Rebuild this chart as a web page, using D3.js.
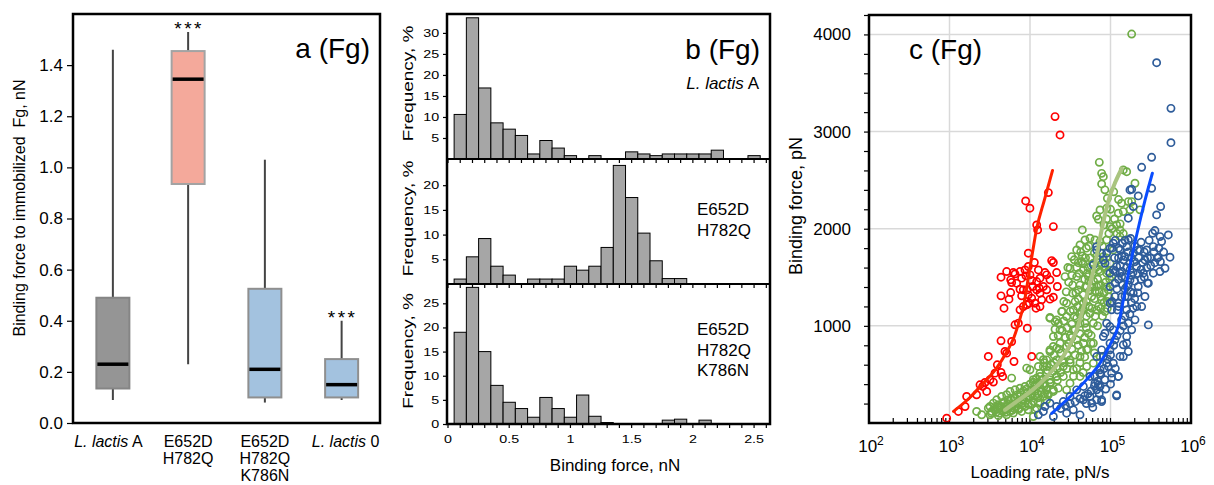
<!doctype html>
<html>
  <head>
    <meta charset="utf-8">
    <title>Binding force</title>
    <script src="https://d3js.org/d3.v7.min.js"></script>
    <style>
      body { margin: 0; background: #fff; }
    </style>
  </head>
  <body>
    <script>
      // ---------- panel a: box plot ----------
      const boxCategories = ['L. lactis A', 'E652D\nH782Q', 'E652D\nH782Q\nK786N', 'L. lactis 0'];
      const boxMin = [0.09, 0.23, 0.08, 0.09];
      const boxQ1 = [0.135, 0.935, 0.10, 0.10];
      const boxMedian = [0.23, 1.345, 0.21, 0.15];
      const boxQ3 = [0.49, 1.455, 0.525, 0.25];
      const boxMax = [1.46, 1.53, 1.03, 0.40];
      const boxStars = ['', '***', '', '***'];
      const yTicksA = [0, 0.2, 0.4, 0.6, 0.8, 1.0, 1.2, 1.4];

      // ---------- panel b: histograms (bin width 0.1 nN) ----------
      const binCenters = [0.1, 0.2, 0.3, 0.4, 0.5, 0.6, 0.7, 0.8, 0.9, 1.0, 1.1, 1.2, 1.3,
                          1.4, 1.5, 1.6, 1.7, 1.8, 1.9, 2.0, 2.1, 2.2, 2.3, 2.4, 2.5];
      const freqLactisA = [10.6, 33.6, 16.9, 8.6, 7.1, 5.6, 1.2, 4.4, 2.6, 0.8, 0, 0.8, 0,
                           0, 1.7, 1.2, 0.8, 1.2, 1.2, 1.2, 1.2, 2.1, 0, 0, 0.8];
      const freqDH = [1.0, 5.5, 9.2, 3.6, 1.8, 0, 1.0, 1.0, 1.0, 3.6, 2.8, 3.6, 7.4,
                      24.0, 17.5, 10.3, 4.7, 1.1, 1.1, 0, 0, 0, 0, 0, 0];
      const freqDHK = [19.0, 28.3, 15.0, 8.0, 4.5, 3.2, 1.4, 5.5, 3.2, 1.4, 6.0, 1.6, 0.3,
                       0, 0, 0, 0, 0.8, 1.0, 0, 0.8, 0, 0, 0, 0];
      const histLabels = [['L. lactis A'], ['E652D', 'H782Q'], ['E652D', 'H782Q', 'K786N']];
      const histTicksA = [5, 10, 15, 20, 25, 30];
      const histTicksDH = [5, 10, 15, 20];
      const histTicksDHK = [0, 5, 10, 15, 20, 25];
      const forceTicksB = [0, 0.5, 1, 1.5, 2, 2.5];

      // ---------- panel c: dynamic force spectroscopy ----------
      // points are [log10(loading rate, pN/s), binding force, pN]
      const rateLabels = [2, 3, 4, 5, 6];
      const forceGridC = [1000, 2000, 3000, 4000];
      const redPoints = [
        [4.311,3154],[4.373,2965],[3.946,2286],[3.999,2211],[4.228,2372],[4.083,2039],[4.095,1988],[4.290,2022],[3.979,1748],
        [3.640,1501],[3.710,1559],[3.760,1474],[3.793,1549],[3.772,1446],[3.876,1559],[3.896,1491],[3.938,1576],[3.979,1611],
        [4.000,1525],[4.054,1652],[4.104,1576],[4.124,1491],[4.186,1549],[4.207,1525],[4.269,1672],[4.290,1652],[4.248,1474],
        [4.331,1549],[4.340,1405],[3.876,1377],[3.760,1343],[3.640,1309],[3.739,1275],[3.677,1182],[3.896,1309],[3.967,1371],
        [4.021,1285],[4.083,1371],[4.124,1336],[4.145,1268],[4.062,1233],[4.075,1182],[3.959,1216],[3.917,1199],[3.876,1165],
        [3.979,1319],[4.248,1275],[4.290,1295],[4.116,1388],[4.033,1405],[3.834,1439],[4.021,1467],[4.166,1405],[4.207,1371],
        [4.083,1456],[3.917,1371],[3.992,1233],[4.124,1199],[3.814,1535],[3.950,1515],
        [3.855,1028],[3.814,1011],[3.967,976],[3.640,846],[3.710,719],[3.689,736],[3.482,685],[3.594,599],[3.640,520],
        [3.660,479],[3.801,633],[4.021,685],[3.441,417],[3.545,421],[3.412,376],[3.462,325],[3.337,291],[3.213,273],
        [3.193,170],[3.110,119],[2.965,50],[3.772,839],[3.565,513],[3.379,393],[3.503,445]
      ];
      const greenPoints = [
        [4.248,1086],[4.331,1062],[4.311,966],[4.352,1028],[4.290,788],[4.331,771],[4.248,736],[4.124,685],[4.166,651],
        [4.207,582],[4.104,582],[3.959,565],[4.000,548],[4.290,531],[4.124,479],[4.041,445],[4.331,479],[4.248,411],
        [3.772,462],[3.938,376],[3.876,359],[3.814,342],[3.752,325],[3.710,291],[3.648,273],[3.586,239],[3.545,205],
        [3.503,170],[3.482,153],[3.565,136],[3.627,153],[3.710,170],[3.772,188],[3.834,205],[3.917,239],[4.000,273],
        [4.062,325],[4.124,359],[4.166,393],[4.207,342],[4.290,325],[4.352,359],[3.337,119],[3.400,85],[3.503,85],
        [3.607,75],[3.710,85],[3.793,102],[3.896,119],[3.979,136],[4.083,153],[4.124,205],[4.207,239],[3.524,119],
        [3.669,205],[3.731,239],[3.607,188],[3.876,273],[3.959,308],[3.814,256],[3.689,136],[3.855,153],[4.041,222],
        [4.861,2683],[4.890,2570],[4.911,2536],[4.890,2461],[4.961,2313],[4.952,2210],[4.870,2193],[4.828,2131],[4.849,2097],
        [4.919,2039],[4.994,2022],[5.201,2587],[5.159,2605],[5.222,2279],[5.159,2176],[5.118,1987],[4.650,1987],[4.621,1833],
        [4.580,1782],[4.683,1884],[4.745,1902],[4.807,1884],[4.642,1662],[4.518,1713],[4.497,1593],[4.435,1507],[4.530,1336],
        [4.455,1233],[4.393,1147],[4.248,1079],[4.311,1044],[4.373,959],[4.455,1096],[4.538,959],[4.621,1027],[4.725,924],
        [4.787,821],[4.704,753],[4.621,684],[4.497,650],[4.414,581],[4.331,650],[4.207,650],[4.166,581],[4.124,513],
        [4.083,410],[4.021,341],[4.166,273],[4.228,290],[4.062,136],[4.041,67],
        [4.663,1576],[4.725,1507],[4.787,1644],[4.849,1576],[4.911,1713],[4.952,1542],[4.704,1404],[4.766,1301],[4.828,1404],
        [4.890,1267],[4.973,1370],[4.663,1233],[4.600,1370],[4.580,1507],[4.828,1164],[4.745,1130],[4.932,1147],[4.994,1644],
        [5.035,1782],[5.014,1507],[4.683,1027],[4.787,1027],[4.538,1164],[4.580,856],[4.663,821],[4.455,787],[4.373,821],
        [4.290,890],[4.248,753],[4.414,479],[4.538,547],[4.497,410],[4.331,479],[4.248,444],[4.290,341],[4.455,341],
        [4.621,479],[4.704,581],[4.787,616],[4.870,684],
        [5.263,4004],[5.138,2262],[5.097,2159],[5.263,2279],[5.242,2194],[5.304,2468],[5.366,2194],[5.076,2039],[5.159,1950],
        [5.118,1919],[4.869,1868],[4.952,1885],
        [4.60,1650],[4.65,1720],[4.70,1800],[4.75,1700],[4.80,1750],[4.85,1680],[4.90,1820],[4.72,1600],[4.78,1550],
        [4.84,1480],[4.88,1420],[4.68,1480],[4.62,1420],[4.74,1360],[4.80,1280],[4.86,1350],[4.70,1250],[4.64,1150],
        [4.58,1080],[4.52,1020],[4.50,900],[4.46,980],[4.42,1050],[4.56,1250],[4.94,1450],[4.96,1250],[4.90,1100],
        [4.84,1000],[4.76,900],[4.68,880],
        [4.10,300],[4.18,380],[4.26,420],[4.34,560],[4.40,640],[4.46,700],[4.36,760],[4.30,620],[4.20,520],
        [4.14,440],[4.06,380],[4.22,300],[3.95,260],[3.90,200],[3.80,150],[3.75,120],[3.98,190],
        [4.47,1600],[4.52,1520],[4.55,1680],[4.58,1600],[4.61,1540],[4.63,1760],[4.66,1640],[4.69,1700],[4.71,1540],
        [4.73,1820],[4.76,1620],[4.79,1460],[4.82,1600],[4.83,1720],[4.87,1560],[4.89,1640],[4.92,1600],[4.95,1700],
        [4.97,1560],[4.99,1480],[4.53,1420],[4.57,1340],[4.60,1280],[4.66,1320],[4.69,1400],[4.73,1460],[4.77,1400],
        [4.81,1360],[4.85,1420],[4.88,1300],[4.92,1340],[4.95,1400],[4.98,1300],[4.50,1150],[4.55,1100],[4.59,1200],
        [4.62,1120],[4.66,1180],[4.70,1100],[4.73,1200],[4.77,1180],[4.81,1100],[4.85,1200],[4.88,1180],[4.92,1240],
        [4.96,1180],[4.45,1350],[4.48,1450],[4.42,1250],[4.40,1150],
        [4.35,900],[4.40,950],[4.44,880],[4.48,820],[4.52,760],[4.56,700],[4.60,800],[4.64,740],[4.68,680],
        [4.72,760],[4.76,820],[4.80,720],[4.52,880],[4.56,960],[4.62,920],[4.70,980],[4.38,720],[4.42,620],
        [4.46,560],[4.50,620],[4.54,480],[4.58,560],[4.62,620],[4.66,520],[4.30,700],[4.26,600],[4.22,540],
        [4.18,620],[4.34,440],[4.38,520],
        [3.58,110],[3.62,100],[3.66,120],[3.70,140],[3.74,160],[3.78,180],[3.82,170],[3.86,200],[3.90,240],
        [3.94,220],[3.98,260],[4.02,300],[4.06,280],[4.10,260],[4.14,320],[4.18,300],[3.64,170],[3.68,220],
        [3.72,200],[3.76,240],[3.80,260],[3.84,290],[3.88,310],[3.92,330],[3.96,350],[4.00,400],[4.04,420],
        [4.08,460],[4.12,400],[4.16,450],[3.60,140],[3.56,160],[3.52,100],[3.70,110],[3.78,130],[3.86,140],
        [3.94,170],[4.02,190],[4.10,210],
        [4.95,2100],[5.00,2200],[5.05,2100],[5.02,2000],[4.98,1950],[5.08,1950],[5.12,2050],[4.93,2400],[5.04,2380],
        [5.10,2300]
      ];
      const bluePoints = [
        [5.573,3709],[5.751,3239],[5.751,2886],[5.511,2735],[5.387,2632],[5.263,2406],[5.345,2338],[5.511,2416],[5.283,2228],
        [5.221,2108],[5.573,2142],[5.623,2228],[5.552,1981],[5.523,1953],[5.615,1919],[5.718,1936],[5.635,1868],[5.532,1816],
        [5.739,1707],[5.594,1707],[5.614,1559],[5.677,1593],[5.532,1542],[5.470,1439],[5.428,1302],[5.387,1199],[5.470,1010],
        [5.304,1062],[5.263,959],[5.201,890],[5.159,805],[5.221,736],[5.118,685],[5.035,616],[5.097,479],[5.014,462],
        [4.931,445],[4.869,376],[4.849,393],[5.076,280],[4.890,239],[4.828,239],[4.766,205],
        [5.035,1851],[5.118,1782],[5.201,1816],[5.283,1748],[5.366,1782],[5.428,1679],[5.325,1611],[5.242,1645],[5.159,1679],
        [5.076,1611],[4.993,1542],[5.056,1439],[5.138,1508],[5.242,1473],[5.345,1405],[5.408,1542],[5.449,1782],[5.283,1336],
        [5.180,1302],[5.097,1233],[5.014,1165],[5.201,1165],[5.325,1199],[5.138,1062],[4.993,993],[4.931,925],[5.056,856],
        [4.993,753],[4.911,685],[4.973,582],[4.869,513],[4.807,479],[4.828,1782],[4.911,1679],[4.786,1628],[4.952,1748],
        [4.828,1816],[4.890,1747],[4.994,1799],[4.932,1644],[5.035,1576],[5.118,1542],[4.994,1404],[5.056,1301],[4.994,1233],
        [5.085,1164],[4.952,1027],[5.035,959],[4.911,890],[4.994,821],[4.890,753],[4.828,684],[4.952,616],[4.870,547],
        [5.014,513],[5.097,479],[4.745,479],[4.807,410],[4.663,376],[4.580,341],[4.497,273],[4.414,221],[4.331,170],
        [4.248,204],[4.186,170],[4.166,119],[4.104,84],[4.538,136],[4.663,239],[4.745,273],[4.828,341],[4.890,221],
        [5.077,290],[4.455,101],[4.621,84],[4.290,67],[5.242,2399],[5.222,1884],[5.180,1713],[5.242,1576],[5.201,1404],
        [5.180,1233],[5.222,1027],[5.201,821],[5.159,684],
        [5.10,1700],[5.15,1850],[5.25,1900],[5.30,1820],[5.35,1700],[5.40,1650],[5.20,1600],[5.05,1700],[5.12,1620],
        [5.28,1550],[5.38,1480],[5.45,1600],[5.50,1700],[5.48,1880],[5.55,1650],[5.60,1800],[5.02,1250],[5.08,1380],
        [5.15,1420],[5.25,1350],
        [5.02,1800],[5.06,1880],[5.10,1800],[5.14,1720],[5.18,1880],[5.22,1760],[5.26,1700],[5.30,1660],[5.34,1780],
        [5.38,1860],[5.42,1760],[5.46,1700],[5.50,1620],[5.54,1760],[5.58,1700],[5.62,1660],[5.66,1760],[5.06,1560],
        [5.10,1480],[5.14,1560],[5.18,1500],[5.22,1420],[5.26,1520],[5.30,1460],[5.34,1540],[5.38,1580],[5.42,1500],
        [5.46,1440],[5.14,1300],[5.18,1380],[5.22,1300],[5.26,1240],[5.30,1280],[5.34,1340],[5.10,1200],[5.18,1100],
        [5.24,1120],[5.28,1180],[5.12,950],[5.16,1000],[5.08,900],[5.04,800],[5.00,700],[4.96,660],[4.92,560],
        [4.88,500],[4.84,430],[4.80,380],[4.76,330],[4.72,300],[4.68,280],[4.62,250],[4.56,220],[4.50,200],
        [4.44,180],[4.38,150],[4.70,200],[4.78,160],[4.86,300],[4.94,350],[5.00,400],[5.06,560]
      ];
      const redFit = [[3.05,120],[3.25,260],[3.42,410],[3.58,560],[3.71,730],[3.80,880],[3.86,1030],
                      [3.93,1250],[3.98,1500],[4.03,1750],[4.08,1990],[4.18,2300],[4.28,2600]];
      const greenFit = [[3.69,136],[3.85,230],[4.00,320],[4.20,470],[4.41,684],[4.58,959],[4.70,1300],
                        [4.81,1644],[4.89,1987],[4.99,2330],[5.06,2480],[5.14,2620]];
      const blueFit = [[4.27,100],[4.50,273],[4.70,444],[4.87,616],[4.99,800],[5.10,1010],[5.16,1268],
                       [5.24,1611],[5.33,1953],[5.43,2296],[5.52,2571]];

      const FONT = '"Liberation Sans", Arial, sans-serif';

      const svg = d3.select('body').append('svg')
          .attr('width', 1214)
          .attr('height', 485)
          .attr('font-family', FONT);

      // writes one line, with "L. lactis" in italics
      function addLine(text, line) {
        if (line.startsWith('L. lactis')) {
          text.append('tspan').attr('font-style', 'italic').text('L. lactis');
          text.append('tspan').text(line.slice(9));
        } else {
          text.append('tspan').text(line);
        }
      }

      function styleAxis(g, size) {
        g.attr('font-family', FONT).attr('font-size', size);
        g.select('.domain').remove();
        g.selectAll('line').attr('stroke', '#000').attr('stroke-width', 1.2);
        g.selectAll('text').attr('fill', '#000');
      }

      // ===== panel a =====
      const xA = d3.scaleBand().domain(boxCategories).range([73, 380]);
      const yA = d3.scaleLinear().domain([0, 1.6]).range([423, 14]);
      const gA = svg.append('g');
      const boxFill = ['#959595', '#f4a99b', '#a3c2df', '#a3c2df'];
      const boxStroke = ['#858585', '#a3a3a3', '#8f8f8f', '#8f8f8f'];
      const boxW = 33;

      gA.append('g')
          .attr('transform', 'translate(73,0)')
          .call(d3.axisLeft(yA).tickValues(yTicksA).tickFormat(d3.format('.1f')).tickSize(6).tickPadding(4))
          .call(g => styleAxis(g, 17));

      boxCategories.forEach((c, i) => {
        const cx = xA(c) + xA.bandwidth() / 2 + (i === 0 ? 1.5 : 0);
        gA.append('line')
            .attr('x1', cx).attr('x2', cx)
            .attr('y1', yA(boxMin[i])).attr('y2', yA(boxMax[i]))
            .attr('stroke', '#444').attr('stroke-width', 2);
        gA.append('rect')
            .attr('x', cx - boxW / 2).attr('width', boxW)
            .attr('y', yA(boxQ3[i])).attr('height', yA(boxQ1[i]) - yA(boxQ3[i]))
            .attr('fill', boxFill[i]).attr('stroke', boxStroke[i]).attr('stroke-width', 2);
        gA.append('line')
            .attr('x1', cx - boxW / 2 + 1).attr('x2', cx + boxW / 2 - 1)
            .attr('y1', yA(boxMedian[i])).attr('y2', yA(boxMedian[i]))
            .attr('stroke', '#000').attr('stroke-width', 3.5);
        if (boxStars[i]) {
          gA.append('text')
              .attr('x', cx + 1).attr('y', yA(boxMax[i]) + 3)
              .attr('text-anchor', 'middle').attr('font-size', 19).attr('letter-spacing', 2.5)
              .text(boxStars[i]);
        }
        c.split('\n').forEach((line, li) => {
          const t = gA.append('text')
              .attr('x', xA(c) + xA.bandwidth() / 2 - (i === 0 ? 3 : 0) + (i === 3 ? 4 : 0))
              .attr('y', 447 + li * 17)
              .attr('text-anchor', 'middle').attr('font-size', 16);
          addLine(t, line);
        });
      });

      gA.append('rect')
          .attr('x', 73).attr('y', 14).attr('width', 307).attr('height', 409)
          .attr('fill', 'none').attr('stroke', '#000').attr('stroke-width', 2.5);

      gA.append('text')
          .attr('transform', 'translate(25,208) rotate(-90)')
          .attr('text-anchor', 'middle').attr('font-size', 16)
          .style('white-space', 'pre')
          .text('Binding force to immobilized  Fg, nN');

      gA.append('text')
          .attr('x', 370).attr('y', 58)
          .attr('text-anchor', 'end').attr('font-size', 28)
          .text('a (Fg)');

      // ===== panel b =====
      const xB = d3.scaleLinear().domain([0, 2.63]).range([448, 770]);
      const histPanels = [
        { freq: freqLactisA, ticks: histTicksA, label: histLabels[0], top: 14, bottom: 159, max: 34.5 },
        { freq: freqDH, ticks: histTicksDH, label: histLabels[1], top: 159, bottom: 284, max: 25.3 },
        { freq: freqDHK, ticks: histTicksDHK, label: histLabels[2], top: 284, bottom: 424, max: 29.0 }
      ];
      const gB = svg.append('g');
      const binW = xB(0.1) - xB(0);

      histPanels.forEach((p, pi) => {
        const y = d3.scaleLinear().domain([0, p.max]).range([p.bottom, p.top]);
        const g = gB.append('g');

        g.selectAll('rect')
          .data(binCenters.map((c, i) => ({ c, v: p.freq[i] })).filter(d => d.v > 0))
          .join('rect')
            .attr('x', d => xB(d.c - 0.05))
            .attr('width', binW)
            .attr('y', d => y(d.v))
            .attr('height', d => y(0) - y(d.v))
            .attr('fill', '#a6a6a6')
            .attr('stroke', '#000')
            .attr('stroke-width', 1);

        const ax = g.append('g')
            .attr('transform', 'translate(447,0)')
            .call(d3.axisLeft(y).tickValues(p.ticks).tickSize(4).tickPadding(2))
            .call(a => styleAxis(a, 11));
        ax.selectAll('text').attr('transform', 'scale(1.3,1)');

        g.selectAll('line.xt')
          .data(xB.ticks(26))
          .join('line')
            .attr('x1', d => xB(d)).attr('x2', d => xB(d))
            .attr('y1', p.bottom).attr('y2', p.bottom + 4)
            .attr('stroke', '#000').attr('stroke-width', 1.2);

        g.append('text')
            .attr('transform', `translate(413,${(p.top + p.bottom) / 2 - 3}) rotate(-90) scale(1,0.8)`)
            .attr('text-anchor', 'middle').attr('font-size', 19)
            .text('Frequency, %');

        p.label.forEach((line, li) => {
          const t = g.append('text').attr('font-size', 17);
          if (pi === 0) {
            t.attr('x', 759).attr('y', 89).attr('text-anchor', 'end');
          } else {
            t.attr('x', 697).attr('y', (pi === 1 ? 215 : 335) + li * 20.7);
          }
          addLine(t, line);
        });
      });

      gB.selectAll('text.xl')
        .data(forceTicksB)
        .join('text')
          .attr('transform', d => `translate(${xB(d)},443) scale(1.3,1)`)
          .attr('text-anchor', 'middle').attr('font-size', 11)
          .text(d => d);

      gB.append('rect')
          .attr('x', 447).attr('y', 14).attr('width', 323).attr('height', 410)
          .attr('fill', 'none').attr('stroke', '#000').attr('stroke-width', 2.5);
      [159, 284].forEach(v => {
        gB.append('line').attr('x1', 447).attr('x2', 770).attr('y1', v).attr('y2', v)
            .attr('stroke', '#000').attr('stroke-width', 2);
      });

      gB.append('text')
          .attr('x', 615).attr('y', 471)
          .attr('text-anchor', 'middle').attr('font-size', 17)
          .text('Binding force, nN');

      gB.append('text')
          .attr('x', 760).attr('y', 59)
          .attr('text-anchor', 'end').attr('font-size', 28)
          .text('b (Fg)');

      // ===== panel c =====
      const xC = d3.scaleLog().domain([1e2, 1e6]).range([869, 1191]);
      const yC = d3.scaleLinear().domain([0, 4200]).range([423, 15]);
      const gC = svg.append('g');

      gC.selectAll('line.gx')
        .data(rateLabels.slice(1, -1))
        .join('line')
          .attr('x1', d => xC(10 ** d)).attr('x2', d => xC(10 ** d))
          .attr('y1', 15).attr('y2', 423)
          .attr('stroke', '#d9d9d9').attr('stroke-width', 1.5);
      gC.selectAll('line.gy')
        .data(forceGridC)
        .join('line')
          .attr('x1', 869).attr('x2', 1191)
          .attr('y1', d => yC(d)).attr('y2', d => yC(d))
          .attr('stroke', '#d9d9d9').attr('stroke-width', 1.5);

      gC.append('g')
          .attr('transform', 'translate(869,0)')
          .call(d3.axisLeft(yC).tickValues(yC.ticks(21).filter(v => v > 0))
            .tickSize(5).tickPadding(13)
            .tickFormat(v => v % 1000 === 0 ? v : ''))
          .call(g => styleAxis(g, 17));

      gC.selectAll('line.xt')
        .data(xC.ticks())
        .join('line')
          .attr('x1', d => xC(d)).attr('x2', d => xC(d))
          .attr('y1', 423).attr('y2', 418)
          .attr('stroke', '#000').attr('stroke-width', 1.2);

      const xl = gC.selectAll('text.xl')
        .data(rateLabels)
        .join('text')
          .attr('x', d => xC(10 ** d) + 2).attr('y', 452)
          .attr('text-anchor', 'middle').attr('font-size', 17);
      xl.append('tspan').text('10');
      xl.append('tspan').attr('font-size', 12).attr('dy', -7).text(d => d);

      const series = [
        { pts: greenPoints, color: '#70ad47' },
        { pts: bluePoints, color: '#2e5c9a' },
        { pts: redPoints, color: '#ff0000' }
      ];
      series.forEach(s => {
        gC.append('g').selectAll('circle')
          .data(s.pts)
          .join('circle')
            .attr('cx', d => xC(10 ** d[0]))
            .attr('cy', d => yC(d[1]))
            .attr('r', 3.6)
            .attr('fill', 'none')
            .attr('stroke', s.color)
            .attr('stroke-width', 1.7);
      });

      const fitLine = d3.line()
          .x(d => xC(10 ** d[0]))
          .y(d => yC(d[1]))
          .curve(d3.curveMonotoneX);
      [
        { pts: greenFit, color: '#a9c47f', w: 4 },
        { pts: blueFit, color: '#0a4dff', w: 3 },
        { pts: redFit, color: '#ff2200', w: 3 }
      ].forEach(f => {
        gC.append('path')
            .attr('d', fitLine(f.pts))
            .attr('fill', 'none')
            .attr('stroke', f.color)
            .attr('stroke-width', f.w)
            .attr('stroke-linecap', 'round');
      });

      gC.append('rect')
          .attr('x', 869).attr('y', 15).attr('width', 322).attr('height', 408)
          .attr('fill', 'none').attr('stroke', '#000').attr('stroke-width', 2.5);

      gC.append('text')
          .attr('transform', 'translate(802,206) rotate(-90)')
          .attr('text-anchor', 'middle').attr('font-size', 18)
          .text('Binding force, pN');

      gC.append('text')
          .attr('x', 1040).attr('y', 478)
          .attr('text-anchor', 'middle').attr('font-size', 17)
          .text('Loading rate, pN/s');

      gC.append('text')
          .attr('x', 909).attr('y', 59)
          .attr('font-size', 28)
          .text('c (Fg)');
    </script>
  </body>
</html>
